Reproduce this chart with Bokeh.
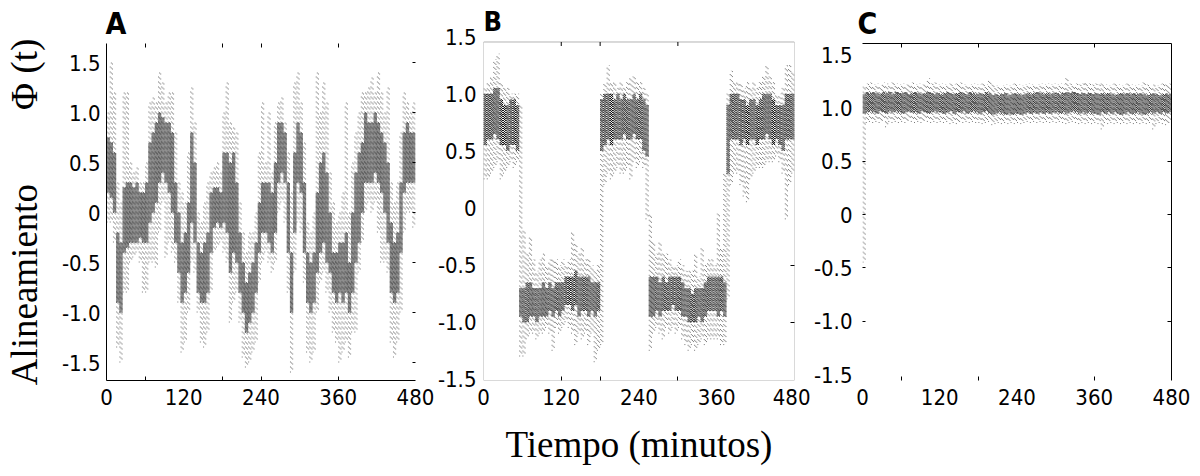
import numpy as np
from bokeh.plotting import figure
from bokeh.layouts import row
from bokeh.models import (FixedTicker, LinearAxis, Range1d, ColumnDataSource,
                          CustomJSTickFormatter, BoxAnnotation)
from bokeh.embed import file_html
from bokeh.resources import INLINE

# ---------------- data (5-minute bins) ----------------
bin_start = list(range(0, 480, 5))
x_ticks = [0, 120, 240, 360, 480]
y_ticks = [-1.5, -1.0, -0.5, 0.0, 0.5, 1.0, 1.5]
a_minor_x = [60, 180, 240, 360]
b_minor_x = [120, 180, 300]
c_minor_x = [60, 180, 360]

# Panel A
a_core_lo = [0.20, 0.15, 0.00, -0.90, -1.00, -0.40, -0.35, -0.30, -0.30, -0.30, -0.25, -0.30,
             -0.30, -0.10, 0.00, 0.10, 0.30, 0.40, 0.30, 0.20, 0.00, -0.30, -0.60, -0.90,
             -0.80, -0.60, -0.10, -0.30, -0.80, -0.90, -0.90, -0.80, -0.40, -0.15, -0.10, -0.15,
             -0.10, -0.20, -0.60, -0.40, -0.50, -0.80, -1.00, -1.20, -1.10, -1.00, -0.80, -0.40,
             -0.20, -0.20, -0.30, -0.40, -0.20, 0.30, 0.40, 0.30, -0.40, -1.00, -0.20, 0.30,
             0.20, -0.40, -0.90, -1.00, -0.90, -0.60, -0.40, -0.30, -0.50, -0.60, -0.80, -0.90,
             -0.80, -0.90, -0.80, -1.00, -0.80, -0.50, -0.30, 0.00, 0.30, 0.30, 0.30, 0.40,
             0.30, 0.20, 0.00, -0.30, -0.80, -0.90, -0.80, -0.40, 0.20, 0.30, 0.30, 0.30]
a_core_hi = [0.75, 0.70, 0.60, -0.20, -0.30, 0.25, 0.30, 0.30, 0.25, 0.30, 0.20, 0.20,
             0.30, 0.70, 0.80, 0.90, 1.00, 0.95, 0.90, 0.90, 0.80, 0.30, 0.00, -0.30,
             -0.20, 0.10, 0.80, 0.50, -0.30, -0.40, -0.30, -0.20, 0.20, 0.25, 0.25, 0.20,
             0.60, 0.60, 0.50, 0.60, 0.30, -0.20, -0.50, -0.70, -0.60, -0.50, -0.30, 0.10,
             0.30, 0.30, 0.30, 0.20, 0.50, 0.90, 0.90, 0.80, 0.30, -0.40, 0.60, 0.90,
             0.80, 0.30, -0.40, -0.50, -0.40, 0.20, 0.50, 0.60, 0.40, 0.00, -0.40, -0.40,
             -0.30, -0.30, -0.20, -0.50, 0.00, 0.40, 0.60, 0.70, 1.00, 0.90, 0.90, 1.00,
             0.90, 0.80, 0.70, 0.50, -0.10, -0.30, -0.20, 0.30, 0.80, 0.90, 0.80, 0.80]
a_tail_lo = [-0.10, -0.10, -0.30, -1.35, -1.50, -0.80, -0.80, -0.50, -0.45, -0.40, -0.50, -0.80,
             -0.80, -0.50, -0.50, -0.55, -0.20, 0.10, -0.45, -0.30, -0.40, -0.50, -0.90, -1.40,
             -1.30, -1.00, -0.50, -0.60, -1.00, -1.30, -1.35, -1.20, -0.80, -0.40, -0.35, -0.30,
             -0.40, -0.50, -1.10, -0.90, -0.80, -1.10, -1.45, -1.55, -1.50, -1.40, -1.30, -0.70,
             -0.50, -0.40, -0.50, -0.60, -0.50, 0.00, 0.10, -0.10, -0.80, -1.60, -0.60, -0.10,
             -0.20, -0.70, -1.40, -1.50, -1.40, -1.00, -0.70, -0.60, -0.80, -1.00, -1.20, -1.30,
             -1.50, -1.40, -1.30, -1.45, -1.20, -1.20, -0.60, -0.30, 0.00, 0.10, 0.00, 0.10,
             -0.20, -0.50, -0.50, -0.60, -1.30, -1.45, -1.30, -1.00, -0.20, 0.00, 0.00, -0.15]
a_tail_hi = [1.00, 1.50, 1.20, 0.30, 0.10, 1.20, 1.20, 0.50, 0.40, 0.45, 0.30, 0.30,
             0.50, 1.10, 1.15, 1.10, 1.40, 1.30, 1.10, 1.20, 1.20, 0.80, 0.30, 0.20,
             0.10, 0.60, 1.25, 0.90, 0.00, -0.10, 0.10, 0.30, 0.40, 0.45, 0.50, 0.40,
             1.00, 1.30, 0.90, 0.85, 0.80, 0.10, -0.20, -0.40, -0.20, -0.20, 0.00, 0.60,
             1.10, 0.50, 1.00, 0.40, 0.90, 1.10, 1.15, 0.90, 0.60, 0.20, 1.30, 1.40,
             1.10, 0.70, -0.10, -0.20, 0.00, 1.40, 1.00, 1.30, 1.10, 0.40, 0.10, -0.10,
             0.00, 0.20, 1.10, 0.00, 0.50, 0.80, 1.00, 1.20, 1.20, 1.25, 1.35, 1.20,
             1.40, 1.20, 1.00, 1.25, 0.30, 0.10, 0.30, 0.80, 1.20, 1.10, 1.00, 1.10]

# Panel B
b_core_lo = [0.55, 0.60, 0.60, 0.65, 0.60, 0.55, 0.55, 0.50, 0.55, 0.55, 0.50, -0.95,
             -1.00, -1.00, -0.95, -0.95, -1.00, -0.95, -0.95, -0.95, -0.90, -0.95, -0.90, -0.95,
             -0.90, -0.85, -0.85, -0.90, -0.85, -0.95, -0.90, -0.90, -0.95, -0.90, -0.95, -0.90,
             0.50, 0.55, 0.60, 0.55, 0.60, 0.60, 0.60, 0.65, 0.60, 0.60, 0.65, 0.60,
             0.60, 0.50, 0.45, -0.95, -0.95, -0.90, -0.95, -0.90, -0.90, -0.90, -0.85, -0.90,
             -0.90, -0.95, -0.95, -1.00, -1.00, -1.00, -0.95, -1.00, -0.95, -0.90, -0.90, -0.90,
             -0.95, -0.90, -0.95, 0.30, 0.60, 0.60, 0.60, 0.55, 0.60, 0.55, 0.60, 0.60,
             0.55, 0.60, 0.60, 0.65, 0.60, 0.55, 0.60, 0.55, 0.50, 0.60, 0.60, 0.60]
b_core_hi = [1.00, 1.00, 1.00, 1.05, 1.05, 0.95, 0.90, 0.90, 0.95, 0.95, 0.90, -0.70,
             -0.70, -0.65, -0.65, -0.70, -0.70, -0.70, -0.65, -0.70, -0.65, -0.70, -0.65, -0.65,
             -0.65, -0.60, -0.60, -0.60, -0.55, -0.60, -0.60, -0.60, -0.60, -0.65, -0.65, -0.65,
             0.95, 1.00, 1.00, 1.00, 0.95, 1.00, 0.95, 1.00, 0.95, 0.95, 1.00, 0.95,
             1.00, 0.95, 0.90, -0.60, -0.60, -0.60, -0.65, -0.60, -0.65, -0.60, -0.60, -0.60,
             -0.60, -0.65, -0.70, -0.70, -0.75, -0.70, -0.70, -0.70, -0.65, -0.60, -0.60, -0.60,
             -0.60, -0.60, -0.65, 0.90, 1.00, 1.00, 1.00, 0.95, 0.95, 0.90, 0.95, 0.95,
             0.90, 0.95, 1.00, 1.00, 1.00, 0.95, 0.90, 0.90, 0.90, 1.00, 1.00, 1.00]
b_tail_lo = [0.25, 0.25, 0.30, 0.35, 0.40, 0.25, 0.30, 0.35, 0.40, 0.35, 0.40, -1.30,
             -1.30, -1.15, -1.10, -1.10, -1.15, -1.10, -1.10, -1.05, -1.10, -1.25, -1.05, -1.10,
             -1.05, -1.00, -1.05, -1.10, -1.20, -1.10, -1.15, -1.10, -1.20, -1.10, -1.35, -1.25,
             -1.20, 0.20, 0.30, 0.25, 0.30, 0.35, 0.30, 0.30, 0.35, 0.25, 0.40, 0.35,
             0.40, 0.35, -0.10, -1.25, -1.10, -1.05, -1.10, -1.15, -1.05, -1.10, -1.05, -1.10,
             -1.05, -1.15, -1.20, -1.25, -1.20, -1.25, -1.20, -1.15, -1.20, -1.15, -1.15, -1.15,
             -1.15, -1.20, -1.20, -0.80, 0.20, 0.30, 0.30, 0.20, 0.10, 0.05, 0.25, 0.30,
             0.35, 0.35, 0.35, 0.40, 0.40, 0.40, 0.45, 0.40, 0.30, -0.10, 0.20, 0.30]
b_tail_hi = [1.05, 1.10, 1.15, 1.30, 1.35, 1.10, 1.05, 1.05, 1.00, 1.00, 1.00, 0.90,
             -0.20, -0.40, -0.25, -0.45, -0.55, -0.45, -0.40, -0.50, -0.45, -0.45, -0.45, -0.50,
             -0.45, -0.50, -0.45, -0.20, -0.30, -0.40, -0.35, -0.45, -0.45, -0.50, -0.55, -0.50,
             1.00, 1.10, 1.25, 1.10, 1.10, 1.05, 1.10, 1.05, 1.10, 1.15, 1.15, 1.10,
             1.10, 1.05, 1.00, -0.05, -0.30, -0.40, -0.30, -0.40, -0.40, -0.45, -0.50, -0.50,
             -0.45, -0.50, -0.55, -0.55, -0.55, -0.40, -0.60, -0.35, -0.50, -0.45, -0.45, -0.50,
             -0.05, -0.35, 0.30, 1.00, 1.20, 1.10, 1.10, 1.10, 1.05, 1.10, 1.05, 1.10,
             1.05, 1.10, 1.15, 1.25, 1.15, 1.10, 1.00, 1.00, 1.05, 1.25, 1.25, 1.20]

# Panel C
c_core_lo = [0.95, 0.96, 0.97, 0.96, 0.95, 0.97, 0.96, 0.95, 0.97, 0.96, 0.97, 0.96,
             0.95, 0.96, 0.97, 0.96, 0.96, 0.95, 0.97, 0.96, 0.95, 0.96, 0.97, 0.96,
             0.96, 0.95, 0.96, 0.97, 0.95, 0.96, 0.96, 0.97, 0.95, 0.96, 0.97, 0.96,
             0.95, 0.96, 0.97, 0.95, 0.94, 0.95, 0.96, 0.95, 0.94, 0.95, 0.94, 0.95,
             0.95, 0.94, 0.95, 0.96, 0.95, 0.96, 0.95, 0.96, 0.95, 0.96, 0.95, 0.96,
             0.96, 0.95, 0.96, 0.95, 0.96, 0.97, 0.96, 0.95, 0.96, 0.95, 0.96, 0.95,
             0.95, 0.94, 0.96, 0.95, 0.96, 0.95, 0.96, 0.95, 0.94, 0.95, 0.96, 0.95,
             0.95, 0.96, 0.95, 0.94, 0.95, 0.96, 0.95, 0.96, 0.95, 0.96, 0.95, 0.96]
c_core_hi = [1.13, 1.15, 1.14, 1.15, 1.14, 1.13, 1.15, 1.14, 1.15, 1.13, 1.15, 1.14,
             1.14, 1.15, 1.13, 1.14, 1.15, 1.14, 1.13, 1.14, 1.15, 1.14, 1.13, 1.14,
             1.13, 1.14, 1.15, 1.14, 1.13, 1.14, 1.15, 1.14, 1.13, 1.15, 1.14, 1.13,
             1.14, 1.13, 1.15, 1.14, 1.12, 1.13, 1.12, 1.13, 1.14, 1.12, 1.13, 1.14,
             1.13, 1.12, 1.13, 1.14, 1.13, 1.14, 1.15, 1.14, 1.13, 1.14, 1.13, 1.14,
             1.14, 1.13, 1.14, 1.15, 1.14, 1.15, 1.14, 1.13, 1.14, 1.13, 1.14, 1.13,
             1.14, 1.13, 1.14, 1.13, 1.14, 1.13, 1.12, 1.13, 1.14, 1.13, 1.14, 1.13,
             1.14, 1.13, 1.14, 1.13, 1.12, 1.13, 1.14, 1.13, 1.12, 1.13, 1.14, 1.13]
c_tail_lo = [-0.45, 0.86, 0.87, 0.86, 0.87, 0.86, 0.88, 0.82, 0.87, 0.86, 0.87, 0.86,
             0.87, 0.86, 0.88, 0.87, 0.86, 0.87, 0.86, 0.88, 0.87, 0.86, 0.87, 0.86,
             0.87, 0.86, 0.87, 0.85, 0.86, 0.85, 0.87, 0.86, 0.87, 0.86, 0.87, 0.86,
             0.86, 0.85, 0.86, 0.87, 0.84, 0.85, 0.86, 0.85, 0.86, 0.85, 0.86, 0.85,
             0.86, 0.85, 0.86, 0.87, 0.86, 0.87, 0.86, 0.87, 0.86, 0.87, 0.86, 0.87,
             0.86, 0.87, 0.86, 0.85, 0.86, 0.87, 0.86, 0.85, 0.86, 0.85, 0.86, 0.85,
             0.86, 0.85, 0.80, 0.86, 0.85, 0.86, 0.85, 0.86, 0.85, 0.86, 0.85, 0.86,
             0.85, 0.86, 0.85, 0.86, 0.85, 0.86, 0.80, 0.85, 0.86, 0.85, 0.84, 0.86]
c_tail_hi = [1.22, 1.23, 1.24, 1.22, 1.23, 1.21, 1.24, 1.23, 1.22, 1.24, 1.23, 1.22,
             1.23, 1.22, 1.23, 1.24, 1.22, 1.23, 1.22, 1.23, 1.28, 1.23, 1.24, 1.22,
             1.23, 1.22, 1.21, 1.23, 1.22, 1.23, 1.24, 1.22, 1.21, 1.22, 1.23, 1.22,
             1.22, 1.23, 1.22, 1.26, 1.22, 1.21, 1.20, 1.21, 1.22, 1.21, 1.22, 1.23,
             1.22, 1.21, 1.22, 1.23, 1.22, 1.21, 1.22, 1.23, 1.22, 1.23, 1.22, 1.23,
             1.22, 1.23, 1.22, 1.28, 1.23, 1.22, 1.23, 1.22, 1.23, 1.24, 1.23, 1.22,
             1.23, 1.22, 1.23, 1.22, 1.21, 1.22, 1.23, 1.22, 1.21, 1.22, 1.23, 1.22,
             1.21, 1.22, 1.21, 1.24, 1.22, 1.21, 1.22, 1.21, 1.22, 1.23, 1.22, 1.23]

# ---------------- styling ----------------
SANS = "DejaVu Sans Condensed"
SERIF = "Liberation Serif"
TICK_SIZE = "22px"
TITLE_SIZE = "37px"
NB = "\u00a0"


def yfmt():
    return CustomJSTickFormatter(code="return tick == 0 ? '0' : tick.toFixed(1);")


def xfmt():
    return CustomJSTickFormatter(code="return tick.toFixed(0);")


def make_fig(width, yr, left, right, top=42, bottom=96):
    p = figure(width=width, height=476, x_range=Range1d(0, 480), y_range=Range1d(*yr),
               output_backend="svg", toolbar_location=None,
               x_axis_location=None, y_axis_location=None,
               min_border_left=left, min_border_right=right,
               min_border_top=top, min_border_bottom=bottom)
    p.frame_align = False
    p.outline_line_color = None
    p.xgrid.visible = False
    p.ygrid.visible = False
    p.background_fill_color = "white"
    p.border_fill_color = "white"
    return p


def add_axis(p, place, ticks, minor=(), labels=True, line=True, major_in=0, minor_in=0,
             standoff=6, fmt=None):
    ax = LinearAxis(ticker=FixedTicker(ticks=list(ticks), minor_ticks=list(minor)))
    ax.major_tick_in = major_in
    ax.major_tick_out = 0
    ax.minor_tick_in = minor_in
    ax.minor_tick_out = 0
    ax.major_tick_line_color = "black"
    ax.minor_tick_line_color = "black"
    ax.axis_line_color = "black" if line else None
    ax.axis_line_width = 1
    if labels:
        ax.formatter = fmt
        ax.major_label_text_font = SANS
        ax.major_label_text_font_size = TICK_SIZE
        ax.major_label_text_color = "black"
        ax.major_label_standoff = standoff
    else:
        ax.major_label_text_font_size = "0px"
        ax.major_label_text_color = None
        ax.major_label_standoff = 0
    p.add_layout(ax, place)
    return ax


def draw(p, lo, hi, tlo, thi):
    xs = np.array(bin_start, dtype=float)
    for off, doff in [(0.8, 0), (2.5, 1), (4.2, 2)]:
        src = ColumnDataSource(dict(x=xs + off, lo=lo, hi=hi, tlo=tlo, thi=thi))
        p.segment(x0="x", y0="tlo", x1="x", y1="thi", source=src,
                  line_color="#222222", line_width=1, line_dash="1 4",
                  line_dash_offset=doff, line_alpha=0.6)
        p.segment(x0="x", y0="lo", x1="x", y1="hi", source=src,
                  line_color="#000000", line_width=1.2, line_dash="1 1",
                  line_dash_offset=doff, line_alpha=0.9)


def letter(p, text, offset, standoff, size="30px"):
    p.title.text = text
    p.title.align = "left"
    p.title.offset = offset
    p.title.standoff = standoff
    p.title.text_font = SANS
    p.title.text_font_size = size
    p.title.text_font_style = "bold"
    p.title.text_color = "black"


# ---------------- Panel A ----------------
pa = make_fig(434, (-1.68, 1.69), left=103, right=19, top=43)
draw(pa, a_core_lo, a_core_hi, a_tail_lo, a_tail_hi)
ay = add_axis(pa, "left", y_ticks, fmt=yfmt(), standoff=6)
ay.axis_label = "Alineamiento" + NB * 8 + "\u03a6" + NB + "(t)"
ay.axis_label_text_font = SERIF
ay.axis_label_text_font_size = TITLE_SIZE
ay.axis_label_text_font_style = "normal"
ay.axis_label_text_color = "black"
ay.axis_label_standoff = 14
add_axis(pa, "below", x_ticks, minor=a_minor_x, minor_in=4, fmt=xfmt(), standoff=8)
add_axis(pa, "above", a_minor_x, labels=False, line=False, major_in=4)
add_axis(pa, "right", y_ticks, labels=False, line=False, major_in=3)
letter(pa, "A", -1, 6)

# ---------------- Panel B ----------------
B_TOP = 1.452
pb = make_fig(376, (-1.51, 1.5), left=48, right=16, top=36)
draw(pb, b_core_lo, b_core_hi, b_tail_lo, b_tail_hi)
pb.add_layout(BoxAnnotation(left=0, right=480, bottom=-1.51, top=B_TOP,
                            fill_alpha=0, line_color="black", line_width=1))
add_axis(pb, "left", y_ticks, line=False, fmt=yfmt(), standoff=7)
bx = add_axis(pb, "below", x_ticks, minor=b_minor_x, minor_in=4, line=False, fmt=xfmt(), standoff=8)
bx.axis_label = "Tiempo (minutos)"
bx.axis_label_text_font = SERIF
bx.axis_label_text_font_size = TITLE_SIZE
bx.axis_label_text_font_style = "normal"
bx.axis_label_text_color = "black"
bx.axis_label_standoff = 16
add_axis(pb, "right", [-0.5, -1.0], labels=False, line=False, major_in=4)
pb.segment(x0=b_minor_x, y0=[B_TOP] * 3, x1=b_minor_x, y1=[B_TOP - 0.035] * 3,
           line_color="black", line_width=1)
letter(pb, "B", 0, 0, size="27px")

# ---------------- Panel C ----------------
pc = make_fig(390, (-1.556, 1.606), left=50, right=29)
draw(pc, c_core_lo, c_core_hi, c_tail_lo, c_tail_hi)
add_axis(pc, "left", y_ticks, minor=[-1.0, -0.5, 0.0, 0.5], minor_in=3, line=False,
         fmt=yfmt(), standoff=10)
add_axis(pc, "below", x_ticks, minor=c_minor_x, minor_in=4, line=False, fmt=xfmt(), standoff=8)
add_axis(pc, "above", c_minor_x, labels=False, line=True, major_in=4)
add_axis(pc, "right", [-1.0, -0.5, 0.0, 0.5], labels=False, line=True, major_in=4)
letter(pc, "C", -5, 6)

layout = row(pa, pb, pc)
open("out.html", "w").write(file_html(layout, INLINE))
